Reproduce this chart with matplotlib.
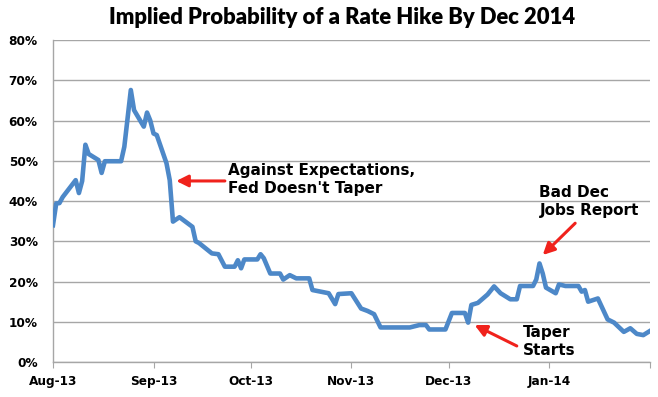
import matplotlib
matplotlib.use("Agg")
import matplotlib.pyplot as plt
import matplotlib.dates as mdates
from matplotlib.ticker import FuncFormatter, MultipleLocator
import pandas as pd

# implied probability (%)
dates = [
    "2013-08-01", "2013-08-02", "2013-08-03", "2013-08-04", "2013-08-08", "2013-08-09",
    "2013-08-10", "2013-08-11", "2013-08-12", "2013-08-15", "2013-08-16", "2013-08-17",
    "2013-08-22", "2013-08-23", "2013-08-25", "2013-08-26", "2013-08-29", "2013-08-30",
    "2013-08-31", "2013-09-01", "2013-09-02", "2013-09-05", "2013-09-06", "2013-09-07",
    "2013-09-09", "2013-09-10", "2013-09-13", "2013-09-14", "2013-09-15", "2013-09-19",
    "2013-09-21", "2013-09-23", "2013-09-26", "2013-09-27", "2013-09-28", "2013-09-29",
    "2013-10-03", "2013-10-04", "2013-10-05", "2013-10-07", "2013-10-10", "2013-10-11",
    "2013-10-13", "2013-10-15", "2013-10-19", "2013-10-20", "2013-10-25", "2013-10-27",
    "2013-10-28", "2013-11-01", "2013-11-04", "2013-11-06", "2013-11-08", "2013-11-10",
    "2013-11-19", "2013-11-22", "2013-11-24", "2013-11-25", "2013-11-30", "2013-12-02",
    "2013-12-06", "2013-12-07", "2013-12-08", "2013-12-10", "2013-12-13", "2013-12-15",
    "2013-12-17", "2013-12-20", "2013-12-22", "2013-12-23", "2013-12-27", "2013-12-28",
    "2013-12-29", "2013-12-30", "2013-12-31", "2014-01-03", "2014-01-04", "2014-01-06",
    "2014-01-10", "2014-01-11", "2014-01-12", "2014-01-13", "2014-01-16", "2014-01-19",
    "2014-01-21", "2014-01-24", "2014-01-26", "2014-01-28", "2014-01-30", "2014-02-01",
]
prob = [
    34.0, 39.4, 39.5, 41.0, 45.2, 42.0,
    45.0, 54.0, 51.7, 50.2, 47.0, 49.9,
    49.9, 53.5, 67.6, 62.6, 58.5, 62.0,
    60.0, 56.8, 56.4, 49.4, 45.2, 34.9,
    36.0, 35.4, 33.6, 30.0, 29.6, 27.0,
    26.8, 23.7, 23.7, 25.3, 23.3, 25.5,
    25.5, 26.8, 25.8, 22.0, 22.0, 20.5,
    21.6, 20.8, 20.8, 17.9, 17.1, 14.4,
    16.9, 17.1, 13.3, 12.7, 11.9, 8.6,
    8.6, 9.2, 9.2, 8.1, 8.1, 12.2,
    12.2, 9.8, 14.2, 14.7, 16.8, 18.8,
    17.1, 15.6, 15.6, 18.9, 18.9, 20.5,
    24.5, 22.0, 18.5, 17.1, 19.3, 18.9,
    18.9, 17.5, 17.9, 15.0, 15.8, 10.6,
    9.8, 7.5, 8.4, 7.0, 6.7, 7.7,
]

# annotations: text, text anchor (date, %), arrow tail, arrow head
notes = [
    ("Against Expectations,\nFed Doesn't Taper", ("2013-09-24", 45.3), ("2013-09-23", 45.0), ("2013-09-08", 45.0)),
    ("Bad Dec\nJobs Report", ("2013-12-29", 39.8), ("2014-01-09", 34.5), ("2013-12-30", 26.6)),
    ("Taper\nStarts", ("2013-12-24", 5.0), ("2013-12-22", 4.0), ("2013-12-09", 9.2)),
]

x = pd.to_datetime(dates)

fig = plt.figure(figsize=(6.58, 3.97), dpi=100)
ax = fig.add_axes([0.0805, 0.088, 0.907, 0.811])

ax.plot(x, prob, color="#4d88c8", lw=3.3, solid_joinstyle="round", zorder=3)

ax.set_xlim(pd.Timestamp("2013-08-01"), pd.Timestamp("2014-02-01"))
ax.set_ylim(0, 80)
ax.yaxis.set_major_locator(MultipleLocator(10))
ax.yaxis.set_major_formatter(FuncFormatter(lambda v, p: f"{v:.0f}%"))
ax.xaxis.set_major_locator(mdates.MonthLocator())
ax.xaxis.set_major_formatter(FuncFormatter(
    lambda v, p: "" if mdates.num2date(v).month == 2 else mdates.num2date(v).strftime("%b-%y")))

ax.grid(axis="y", color="#a6a6a6", lw=1.0)
ax.set_axisbelow(True)
for s in ["top", "right"]:
    ax.spines[s].set_visible(False)
for s in ["left", "bottom"]:
    ax.spines[s].set_color("#a6a6a6")
    ax.spines[s].set_linewidth(1.0)
ax.tick_params(axis="y", length=0, pad=11)
ax.tick_params(axis="x", length=4, color="#a6a6a6", pad=5)
for lab in ax.get_xticklabels() + ax.get_yticklabels():
    lab.set_fontweight("bold")
    lab.set_fontsize(8.7)

for txt, (tx, ty), (ax0, ay0), (hx, hy) in notes:
    ax.annotate("", xy=(pd.Timestamp(hx), hy), xytext=(pd.Timestamp(ax0), ay0),
                arrowprops=dict(arrowstyle="-|>,head_length=0.7,head_width=0.35",
                                color="#f0221c", lw=2.2, shrinkA=0, shrinkB=0))
    ax.text(pd.Timestamp(tx), ty, txt, fontsize=11, fontweight="bold",
            ha="left", va="center", linespacing=1.25)

fig.text(0.52, 0.955, "Implied Probability of a Rate Hike By Dec 2014",
         ha="center", va="center", fontsize=15.8, fontweight="heavy", family="Lato")

fig.savefig("out.png", dpi=100)
